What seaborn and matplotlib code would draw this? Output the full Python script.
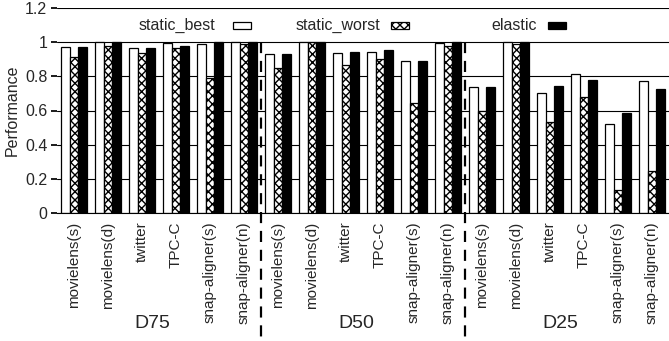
import matplotlib
matplotlib.use("Agg")
import matplotlib.pyplot as plt
from matplotlib.patches import Rectangle
import seaborn as sns
import pandas as pd

benchmarks = ["movielens(s)", "movielens(d)", "twitter", "TPC-C", "snap-aligner(s)", "snap-aligner(n)"]
configs = ["D75", "D50", "D25"]
series = ["static_best", "static_worst", "elastic"]
static_best = [0.973, 1.0, 0.965, 0.994, 0.99, 1.0,
               0.932, 1.0, 0.937, 0.945, 0.889, 0.994,
               0.737, 1.0, 0.700, 0.816, 0.522, 0.774]
static_worst = [0.912, 0.975, 0.936, 0.965, 0.791, 0.99,
                0.848, 1.0, 0.865, 0.900, 0.643, 0.975,
                0.598, 0.988, 0.532, 0.678, 0.132, 0.243]
elastic = [0.973, 1.0, 0.963, 0.978, 1.0, 1.0,
           0.932, 1.0, 0.945, 0.955, 0.891, 1.0,
           0.737, 1.0, 0.744, 0.778, 0.585, 0.727]
yticks = [0, 0.2, 0.4, 0.6, 0.8, 1, 1.2]
ytick_labels = ["0", "0.2", "0.4", "0.6", "0.8", "1", "1.2"]

sns.set_theme(style="white")
plt.rcParams["font.family"] = ["Liberation Sans", "DejaVu Sans"]
plt.rcParams["hatch.linewidth"] = 1.0

slots = [f"{c}|{b}" for c in configs for b in benchmarks]
rows = []
for name, vals in zip(series, [static_best, static_worst, elastic]):
    for s, v in zip(slots, vals):
        rows.append({"slot": s, "series": name, "value": v})
df = pd.DataFrame(rows)

fig = plt.figure(figsize=(6.69, 3.41), dpi=100)
ax = fig.add_axes([57 / 669, 1 - 213 / 341, 612 / 669, 205 / 341])

for y in yticks:
    ax.axhline(y, color="black", lw=0.8, zorder=0)

sns.barplot(data=df, x="slot", y="value", hue="series", order=slots, hue_order=series,
            palette=["white", "white", "black"], edgecolor="black", linewidth=0.9,
            width=0.77, ax=ax, legend=False, zorder=2)
for bar in ax.containers[1]:
    bar.set_hatch("xxxx")

ax.set_xlim(-0.5, len(slots) - 0.5)
ax.set_ylim(0, 1.2)
ax.set_yticks(yticks)
ax.set_yticklabels(ytick_labels, fontsize=11.5)
ax.set_xticks(range(len(slots)))
ax.set_xticklabels(benchmarks * len(configs), rotation=90, fontsize=11)
ax.tick_params(axis="x", length=0, pad=6)
ax.tick_params(axis="y", length=4, direction="out", left=True, color="black", pad=3)
ax.set_xlabel("")
ax.set_ylabel("Performance", fontsize=11.5, labelpad=4)
for sp in ["left", "right", "top"]:
    ax.spines[sp].set_visible(False)
ax.spines["bottom"].set_color("black")
ax.spines["bottom"].set_linewidth(0.8)

# separators between configurations
for xs in [5.5, 11.5]:
    ax.plot([xs, xs], [1.0, -0.74], color="black", lw=1.6, ls=(0, (5, 3.5)),
            clip_on=False, zorder=3)

# configuration labels
for i, c in enumerate(configs):
    ax.text(i * 6 + 2.3, -0.645, c, ha="center", va="center", fontsize=14)

# legend (gnuplot style: text then sample box)
legend_text_x = [0.258, 0.528, 0.784]
legend_box_x = [0.288, 0.546, 0.802]
box_w = 0.029
box_h = 0.034
ly = 0.917
styles = [dict(facecolor="white", hatch=None), dict(facecolor="white", hatch="xxxx"),
          dict(facecolor="black", hatch=None)]
for name, tx, bx, st in zip(series, legend_text_x, legend_box_x, styles):
    ax.text(tx, ly, name, transform=ax.transAxes, ha="right", va="center", fontsize=11.5)
    ax.add_patch(Rectangle((bx, ly - box_h / 2), box_w, box_h, transform=ax.transAxes,
                           facecolor=st["facecolor"], hatch=st["hatch"],
                           edgecolor="black", lw=0.9, clip_on=False, zorder=4))

fig.savefig("out.png", dpi=100)
